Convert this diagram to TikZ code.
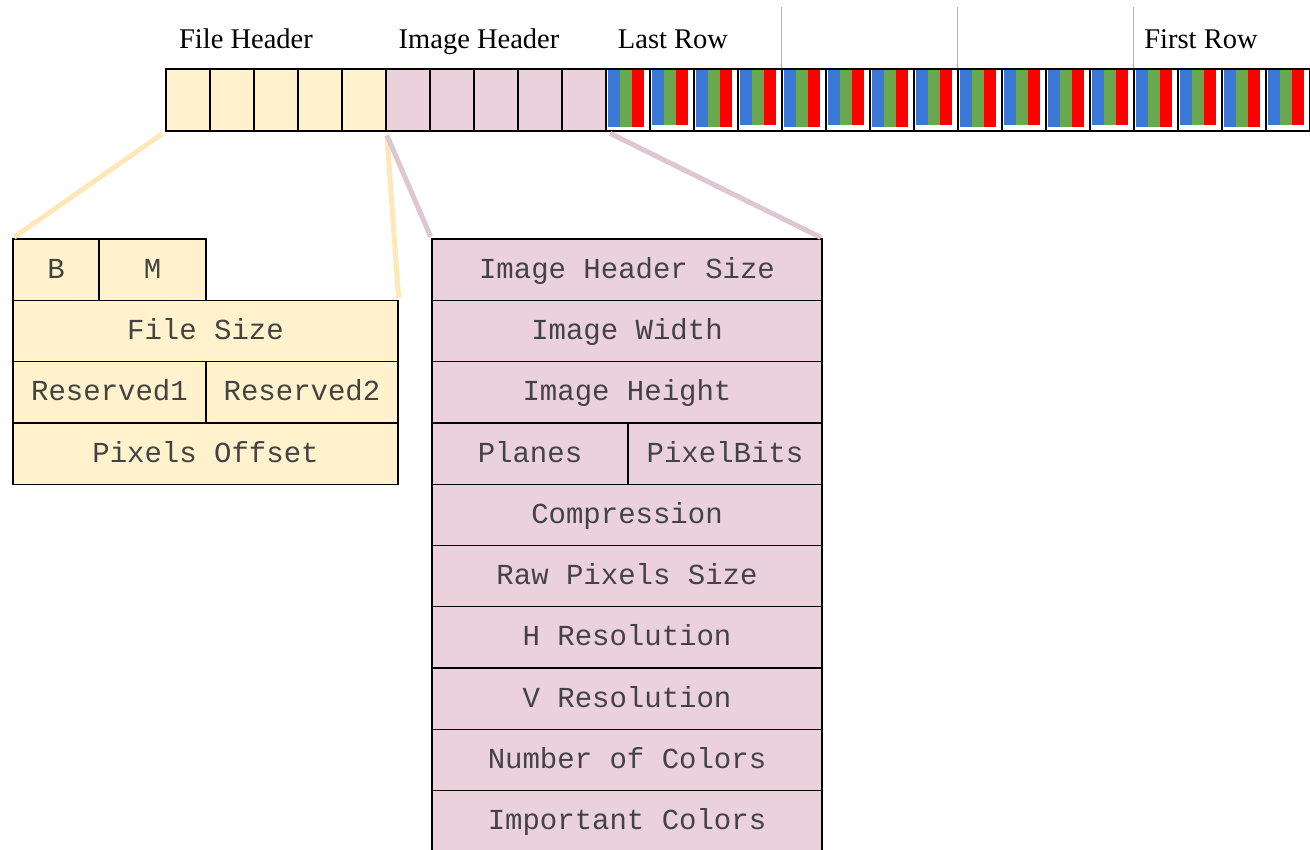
\documentclass[tikz,border=0pt]{standalone}
\usepackage{fontspec}
\setmainfont{Liberation Serif}
\setmonofont{Liberation Mono}
\definecolor{fhyellow}{HTML}{FFF2CC}
\definecolor{ihpink}{HTML}{EAD1DC}
\definecolor{pixblue}{HTML}{3C78D8}
\definecolor{pixgreen}{HTML}{6AA84F}
\definecolor{pixred}{HTML}{FF0000}
\definecolor{textgray}{HTML}{434343}
\begin{document}
\begin{tikzpicture}[x=1pt,y=-1pt,
  cell/.style={draw=black,line width=1.3pt,inner sep=0pt,minimum width=44pt,minimum height=62pt},
  fhcell/.style={cell,fill=fhyellow},
  ihcell/.style={cell,fill=ihpink},
  pxcell/.style={cell,fill=white},
  field/.style={draw=black,line width=1.3pt,inner sep=0pt,minimum height=61.3pt,
    font=\ttfamily\fontsize{29}{29}\selectfont,text=textgray,text height=17pt,text depth=0pt},
  fhfield/.style={field,fill=fhyellow},
  ihfield/.style={field,fill=ihpink},
  toplabel/.style={font=\fontsize{28.5}{30}\selectfont,anchor=base,inner sep=0pt},
  fhlink/.style={draw=fhyellow!90!orange,line width=5pt,shorten <=4pt,shorten >=2pt},
  ihlink/.style={draw=ihpink!95!black,line width=5pt,shorten <=4pt,shorten >=2pt},
  sepline/.style={draw=gray!60,line width=0.6pt}]
\useasboundingbox (0,0) rectangle (1310,850);
% top strip
\foreach \i in {0,...,4} \node[fhcell] (fh\i) at (188+44*\i,100) {};
\foreach \i in {0,...,4} \node[ihcell] (ih\i) at (408+44*\i,100) {};
\foreach \i in {0,...,15} {
  \node[pxcell] (px\i) at (628+44*\i,100) {};
  \pgfmathsetmacro\sh{mod(\i,2)==0 ? 57 : 55}
  \fill[pixblue] ([xshift=3pt,yshift=-1.5pt]px\i.north west) rectangle ++(12,\sh);
  \fill[pixgreen] ([xshift=15pt,yshift=-1.5pt]px\i.north west) rectangle ++(12,\sh);
  \fill[pixred] ([xshift=27pt,yshift=-1.5pt]px\i.north west) rectangle ++(12,\sh);
}
\foreach \i in {4,8,12} \draw[sepline] (px\i.north west) -- ++(0,-61);
\node[toplabel] (fhlabel) at (246,49) {File Header};
\node[toplabel] (ihlabel) at (479,49) {Image Header};
\node[toplabel] (lastrow) at (673,49) {Last Row};
\node[toplabel] (firstrow) at (1201,49) {First Row};
% file header fields
\node[fhfield,minimum width=86pt] (B) at (56,269.65) {B};
\node[fhfield,minimum width=107pt] (M) at (152.5,269.65) {M};
\node[fhfield,minimum width=385pt] (fsize) at (205.5,330.95) {File Size};
\node[fhfield,minimum width=193pt] (res1) at (109.5,392.25) {Reserved1};
\node[fhfield,minimum width=192pt] (res2) at (302,392.25) {Reserved2};
\node[fhfield,minimum width=385pt] (poff) at (205.5,453.55) {Pixels Offset};
% image header fields
\foreach \lbl/\nm [count=\k from 0] in {Image Header Size/ihsize,Image Width/iwidth,Image Height/iheight}
  \node[ihfield,minimum width=390pt] (\nm) at (627,269.65+61.3*\k) {\lbl};
\node[ihfield,minimum width=196pt] (planes) at (530,453.55) {Planes};
\node[ihfield,minimum width=194pt] (pbits) at (725,453.55) {PixelBits};
\foreach \lbl/\nm [count=\k from 4] in {Compression/compr,Raw Pixels Size/rawsize,H Resolution/hres,V Resolution/vres,Number of Colors/ncolors,Important Colors/icolors}
  \node[ihfield,minimum width=390pt] (\nm) at (627,269.65+61.3*\k) {\lbl};
% links
\draw[fhlink] (fh0.south west) -- (B.north west);
\draw[fhlink] (fh4.south east) -- (fsize.north east);
\draw[ihlink] (ih0.south west) -- (ihsize.north west);
\draw[ihlink] (ih4.south east) -- (ihsize.north east);
\end{tikzpicture}
\end{document}
